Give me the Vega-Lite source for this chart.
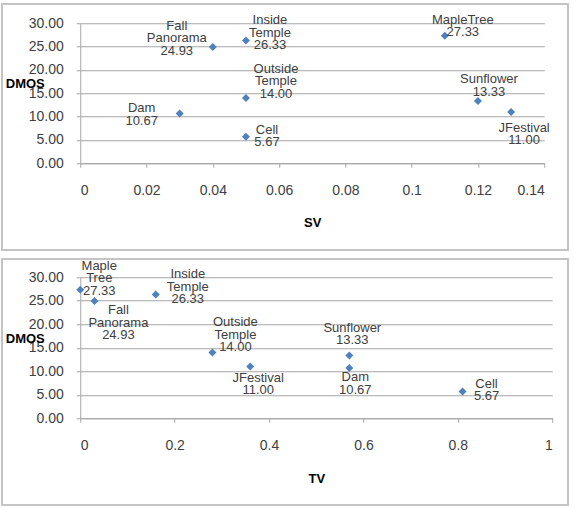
{
  "$schema": "https://vega.github.io/schema/vega-lite/v6.json",
  "background": "white",
  "padding": {"left": 1.25, "top": 3.25, "right": 0, "bottom": 0},
  "bounds": "flush",
  "spacing": 114,
  "datasets": {
    "sv": [
      {"name": "Dam", "SV": 0.03, "DMOS": 10.67},
      {"name": "Fall Panorama", "SV": 0.04, "DMOS": 24.93},
      {"name": "Inside Temple", "SV": 0.05, "DMOS": 26.33},
      {"name": "Outside Temple", "SV": 0.05, "DMOS": 14.0},
      {"name": "Cell", "SV": 0.05, "DMOS": 5.67},
      {"name": "MapleTree", "SV": 0.11, "DMOS": 27.33},
      {"name": "Sunflower", "SV": 0.12, "DMOS": 13.33},
      {"name": "JFestival", "SV": 0.13, "DMOS": 11.0}
    ],
    "tv": [
      {"name": "Maple Tree", "TV": 0.0, "DMOS": 27.33},
      {"name": "Fall Panorama", "TV": 0.03, "DMOS": 24.93},
      {"name": "Inside Temple", "TV": 0.16, "DMOS": 26.33},
      {"name": "Outside Temple", "TV": 0.28, "DMOS": 14.0},
      {"name": "JFestival", "TV": 0.36, "DMOS": 11.0},
      {"name": "Sunflower", "TV": 0.57, "DMOS": 13.33},
      {"name": "Dam", "TV": 0.57, "DMOS": 10.67},
      {"name": "Cell", "TV": 0.81, "DMOS": 5.67}
    ]
  },
  "vconcat": [
    {
      "width": 464,
      "height": 140,
      "data": {"name": "sv"},
      "transform": [{"calculate": "datum.name + ' ' + format(datum.DMOS, '.2f')", "as": "label"}],
      "encoding": {
        "x": {
          "field": "SV", "type": "quantitative",
          "scale": {"domain": [0, 0.14], "nice": false, "zero": false},
          "axis": {
            "values": [0, 0.02, 0.04, 0.06, 0.08, 0.1, 0.12, 0.14],
            "format": "~g", "grid": false, "labelPadding": 16,
            "title": "SV", "titleY": 59, "titleBaseline": "middle"
          }
        },
        "y": {
          "field": "DMOS", "type": "quantitative",
          "scale": {"domain": [0, 30], "nice": false},
          "axis": {
            "values": [0, 5, 10, 15, 20, 25, 30],
            "format": ".2f", "grid": true, "labelPadding": 13,
            "title": "DMOS", "titleAngle": 0, "titleAlign": "left", "titleBaseline": "middle",
            "titleX": -75, "titleY": 60
          }
        }
      },
      "layer": [
        {
          "description": "panel frame, drawn in data units beyond the plotted domain",
          "mark": {"type": "rect", "fill": null, "stroke": "#c4c4c4", "strokeWidth": 1.5, "clip": false},
          "encoding": {
            "x": {
              "datum": -0.02353, "type": "quantitative",
              "axis": {
                "values": [0, 0.02, 0.04, 0.06, 0.08, 0.1, 0.12, 0.14],
                "format": "~g", "grid": false, "labelPadding": 16,
                "title": "SV", "titleY": 59, "titleBaseline": "middle"
              }
            },
            "x2": {"datum": 0.14724},
            "y": {
              "datum": 34.07, "type": "quantitative",
              "axis": {
                "values": [0, 5, 10, 15, 20, 25, 30],
                "format": ".2f", "grid": true, "labelPadding": 13,
                "title": "DMOS", "titleAngle": 0, "titleAlign": "left", "titleBaseline": "middle",
                "titleX": -75, "titleY": 60
              }
            },
            "y2": {"datum": -18.64}
          }
        },
        {"mark": {"type": "point", "shape": "diamond", "filled": true, "size": 64, "color": "#4F81BD", "opacity": 1}},
        {"transform": [{"filter": "datum.name === 'Dam'"}], "mark": {"type": "text", "dx": -38, "dy": -5}, "encoding": {"text": {"field": "label"}}},
        {"transform": [{"filter": "datum.name === 'Fall Panorama'"}], "mark": {"type": "text", "dx": -36, "dy": -21}, "encoding": {"text": {"field": "label"}}},
        {"transform": [{"filter": "datum.name === 'Inside Temple'"}], "mark": {"type": "text", "dx": 24, "dy": -20}, "encoding": {"text": {"field": "label"}}},
        {"transform": [{"filter": "datum.name === 'Outside Temple'"}], "mark": {"type": "text", "dx": 30, "dy": -29}, "encoding": {"text": {"field": "label"}}},
        {"transform": [{"filter": "datum.name === 'Cell'"}], "mark": {"type": "text", "dx": 21, "dy": -7}, "encoding": {"text": {"field": "label"}}},
        {"transform": [{"filter": "datum.name === 'MapleTree'"}], "mark": {"type": "text", "dx": 18, "dy": -16}, "encoding": {"text": {"field": "label"}}},
        {"transform": [{"filter": "datum.name === 'Sunflower'"}], "mark": {"type": "text", "dx": 11, "dy": -22}, "encoding": {"text": {"field": "label"}}},
        {"transform": [{"filter": "datum.name === 'JFestival'"}], "mark": {"type": "text", "dx": 13, "dy": 16}, "encoding": {"text": {"field": "label"}}}
      ]
    },
    {
      "width": 472,
      "height": 141,
      "data": {"name": "tv"},
      "transform": [{"calculate": "datum.name + ' ' + format(datum.DMOS, '.2f')", "as": "label"}],
      "encoding": {
        "x": {
          "field": "TV", "type": "quantitative",
          "scale": {"domain": [0, 1], "nice": false, "zero": false},
          "axis": {
            "values": [0, 0.2, 0.4, 0.6, 0.8, 1],
            "format": "~g", "grid": false, "labelPadding": 16,
            "title": "TV", "titleY": 60, "titleBaseline": "middle"
          }
        },
        "y": {
          "field": "DMOS", "type": "quantitative",
          "scale": {"domain": [0, 30], "nice": false},
          "axis": {
            "values": [0, 5, 10, 15, 20, 25, 30],
            "format": ".2f", "grid": true, "labelPadding": 13,
            "title": "DMOS", "titleAngle": 0, "titleAlign": "left", "titleBaseline": "middle",
            "titleX": -75, "titleY": 61
          }
        }
      },
      "layer": [
        {
          "description": "panel frame, drawn in data units beyond the plotted domain",
          "mark": {"type": "rect", "fill": null, "stroke": "#c4c4c4", "strokeWidth": 1.5, "clip": false},
          "encoding": {
            "x": {
              "datum": -0.16525, "type": "quantitative",
              "axis": {
                "values": [0, 0.2, 0.4, 0.6, 0.8, 1],
                "format": "~g", "grid": false, "labelPadding": 16,
                "title": "TV", "titleY": 60, "titleBaseline": "middle"
              }
            },
            "x2": {"datum": 1.0339},
            "y": {
              "datum": 33.83, "type": "quantitative",
              "axis": {
                "values": [0, 5, 10, 15, 20, 25, 30],
                "format": ".2f", "grid": true, "labelPadding": 13,
                "title": "DMOS", "titleAngle": 0, "titleAlign": "left", "titleBaseline": "middle",
                "titleX": -75, "titleY": 61
              }
            },
            "y2": {"datum": -18.51}
          }
        },
        {"mark": {"type": "point", "shape": "diamond", "filled": true, "size": 64, "color": "#4F81BD", "opacity": 1}},
        {"transform": [{"filter": "datum.name === 'Maple Tree'"}], "mark": {"type": "text", "dx": 19, "dy": -24}, "encoding": {"text": {"field": "label"}}},
        {"transform": [{"filter": "datum.name === 'Fall Panorama'"}], "mark": {"type": "text", "dx": 24, "dy": 9}, "encoding": {"text": {"field": "label"}}},
        {"transform": [{"filter": "datum.name === 'Inside Temple'"}], "mark": {"type": "text", "dx": 32, "dy": -20}, "encoding": {"text": {"field": "label"}}},
        {"transform": [{"filter": "datum.name === 'Outside Temple'"}], "mark": {"type": "text", "dx": 23, "dy": -30}, "encoding": {"text": {"field": "label"}}},
        {"transform": [{"filter": "datum.name === 'JFestival'"}], "mark": {"type": "text", "dx": 8, "dy": 11}, "encoding": {"text": {"field": "label"}}},
        {"transform": [{"filter": "datum.name === 'Sunflower'"}], "mark": {"type": "text", "dx": 3, "dy": -28}, "encoding": {"text": {"field": "label"}}},
        {"transform": [{"filter": "datum.name === 'Dam'"}], "mark": {"type": "text", "dx": 6, "dy": 9}, "encoding": {"text": {"field": "label"}}},
        {"transform": [{"filter": "datum.name === 'Cell'"}], "mark": {"type": "text", "dx": 24, "dy": -8}, "encoding": {"text": {"field": "label"}}}
      ]
    }
  ],
  "config": {
    "view": {"stroke": null},
    "axis": {
      "labelFont": "Liberation Sans",
      "labelFontSize": 14,
      "labelColor": "#404040",
      "domainColor": "#a6a6a6",
      "tickColor": "#a6a6a6",
      "gridColor": "#a6a6a6",
      "gridOpacity": 1,
      "tickSize": 4,
      "titleFont": "Liberation Sans",
      "titleFontSize": 13,
      "titleFontWeight": "bold",
      "titleColor": "#000000"
    },
    "text": {
      "font": "Liberation Sans",
      "fontSize": 13,
      "color": "#404040",
      "align": "center",
      "baseline": "middle",
      "lineBreak": " ",
      "lineHeight": 12.5
    }
  }
}
